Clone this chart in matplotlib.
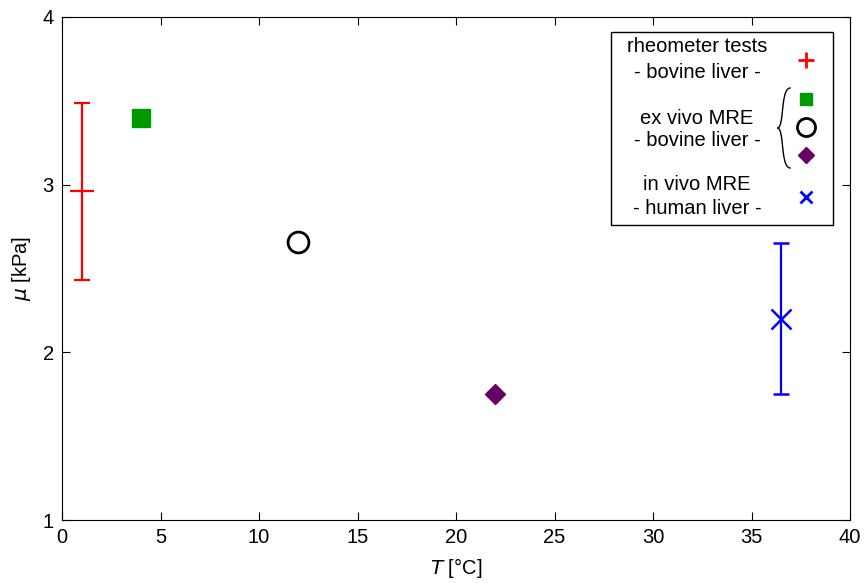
import matplotlib.pyplot as plt
import numpy as np
from math import comb
from matplotlib.patches import Rectangle

plt.rcParams['font.family'] = ['Liberation Sans', 'DejaVu Sans']

# data
rheo_T = [1.0]
rheo_mu = [2.96]
rheo_err = [0.53]

exvivo_T = [4.0, 12.0, 22.0]
exvivo_mu = [3.40, 2.66, 1.75]

invivo_T = [36.5]
invivo_mu = [2.20]
invivo_err = [0.45]

xticks = [0, 5, 10, 15, 20, 25, 30, 35, 40]
yticks = [1, 2, 3, 4]

fig = plt.figure(figsize=(8.66, 5.83), dpi=100)
ax = fig.add_axes([62 / 866, 1 - 520 / 583, 788 / 866, 503 / 583])

ax.errorbar(rheo_T, rheo_mu, yerr=rheo_err, fmt='_', color='red', ms=17, mew=1.6,
            elinewidth=1.6, capsize=6, capthick=1.6)
ax.plot(exvivo_T[0], exvivo_mu[0], 's', color='#009900', ms=13)
ax.plot(exvivo_T[1], exvivo_mu[1], 'o', mfc='none', mec='black', ms=15, mew=2)
ax.plot(exvivo_T[2], exvivo_mu[2], 'D', color='#660066', ms=10.5)
ax.errorbar(invivo_T, invivo_mu, yerr=invivo_err, fmt='x', color='blue', ms=14.5, mew=1.8,
            elinewidth=1.6, capsize=6, capthick=1.6)

ax.set_xlim(0, 40)
ax.set_ylim(1, 4)
ax.set_xticks(xticks)
ax.set_yticks(yticks)
ax.tick_params(direction='in', top=True, right=True, length=6, width=0.8, pad=6,
               labelsize=14.5)
ax.set_xlabel(r'$T$ [°C]', fontsize=14.5, labelpad=6)
ax.set_ylabel(r'$\mu$ [kPa]', fontsize=14.5, labelpad=7)


# hand-drawn legend, positions in reference pixels
def p(px, py):
    return (px - 62) / 788, (520 - py) / 503


x0, y0 = p(611, 225)
x1, y1 = p(833, 32)
ax.add_patch(Rectangle((x0, y0), x1 - x0, y1 - y0, transform=ax.transAxes,
                       fc='white', ec='black', lw=1, zorder=5))

labels = [('rheometer tests', 47), ('- bovine liver -', 73),
          ('ex vivo MRE', 118), ('- bovine liver -', 141),
          ('in vivo MRE', 185), ('- human liver -', 209)]
for txt, py in labels:
    tx, ty = p(697, py)
    ax.text(tx, ty, txt, transform=ax.transAxes, ha='center', va='center',
            fontsize=14.5, zorder=6)

leg = [('+', 'red', 60, 12, 2, 'red'),
       ('s', '#009900', 99, 9, 1, '#009900'),
       ('o', 'none', 127, 13, 2, 'black'),
       ('D', '#660066', 155, 8.5, 1, '#660066'),
       ('x', 'blue', 197, 8.5, 2, 'blue')]
for m, fc, py, ms, mew, ec in leg:
    mx, my = p(806, py)
    ax.plot(mx, my, m, mfc=fc, mec=ec, ms=ms, mew=mew, transform=ax.transAxes,
            zorder=7, clip_on=False)

# curly brace
t = np.linspace(0, 1, 40)
top = np.array([[790, 88], [782, 89], [783, 112], [782, 126], [778, 128]])
bot = top.copy()
bot[:, 1] = 256 - bot[:, 1]


def bez(pts, t):
    n = len(pts) - 1
    out = np.zeros((len(t), 2))
    for i, q in enumerate(pts):
        out += comb(n, i) * ((1 - t) ** (n - i) * t ** i)[:, None] * q
    return out


for seg in (top, bot):
    c = bez(seg.astype(float), t)
    xs, ys = zip(*[p(a, b) for a, b in c])
    ax.plot(xs, ys, color='black', lw=1, transform=ax.transAxes, zorder=7)

fig.savefig('out.png', dpi=100)
